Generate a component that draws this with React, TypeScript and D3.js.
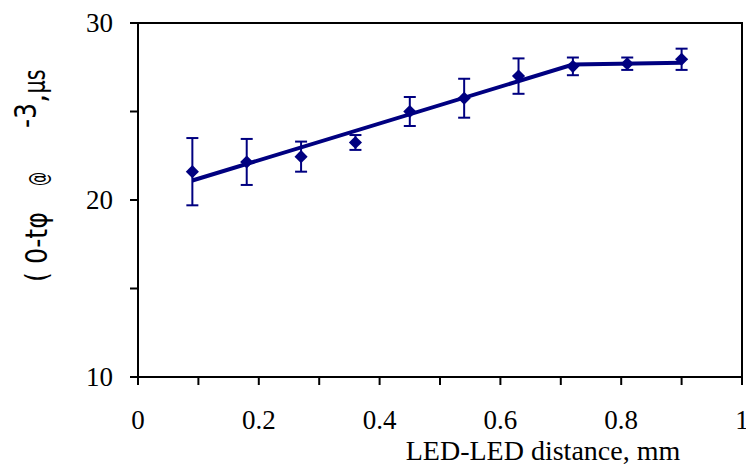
import React from 'react';
import * as d3 from 'd3';

// LED-LED distance (mm) and measured delay values with error bars
const distance = [0.09, 0.18, 0.27, 0.36, 0.45, 0.54, 0.63, 0.72, 0.81, 0.9];
const delay = [21.6, 22.15, 22.45, 23.25, 25.0, 25.75, 27.0, 27.55, 27.7, 27.95];
const delayErr = [1.9, 1.3, 0.85, 0.42, 0.82, 1.1, 1.0, 0.5, 0.35, 0.6];

// fitted trend line
const fitX = [0.09, 0.72, 0.9];
const fitY = [21.1, 27.65, 27.75];

const xTicks = [0, 0.1, 0.2, 0.3, 0.4, 0.5, 0.6, 0.7, 0.8, 0.9, 1];
const xLabels = ['0', '', '0.2', '', '0.4', '', '0.6', '', '0.8', '', '1'];
const yTicks = [10, 15, 20, 25, 30];
const yLabels = ['10', '', '20', '', '30'];

const W = 746;
const H = 466;
const navy = '#000080';
const serif = 'Liberation Serif, DejaVu Serif, serif';
const sans = 'DejaVu Sans, sans-serif';

const left = 138, right = 742, top = 23, bottom = 377;
const x = d3.scaleLinear().domain([0, 1]).range([left, right]);
const y = d3.scaleLinear().domain([10, 30]).range([bottom, top]);

const fitLine = d3.line<number>()
  .x((d) => x(d))
  .y((_, i) => y(fitY[i]));

const diamond = d3.symbol().type(d3.symbolDiamond2).size(110)() as string;

const App = () => (
  <svg width={W} height={H} style={{ position: 'fixed', left: 0, top: 0, background: '#fff' }}>
    {/* frame */}
    <rect x={left} y={top} width={right - left} height={bottom - top} fill="none" stroke="#000" strokeWidth={2} />

    {/* y axis */}
    <g fontFamily={serif} fontSize={27}>
      {yTicks.map((t, i) => (
        <g key={t} transform={`translate(${left},${y(t)})`}>
          <line x1={-8} x2={0} stroke="#000" strokeWidth={2} />
          <text x={-25} dy="0.34em" textAnchor="end">{yLabels[i]}</text>
        </g>
      ))}
    </g>

    {/* x axis */}
    <g fontFamily={serif} fontSize={27}>
      {xTicks.map((t, i) => (
        <g key={t} transform={`translate(${x(t)},${bottom})`}>
          <line y1={0} y2={8} stroke="#000" strokeWidth={2} />
          <text y={52} textAnchor="middle">{xLabels[i]}</text>
        </g>
      ))}
    </g>

    {/* error bars */}
    <g stroke={navy} strokeWidth={2}>
      {distance.map((d, i) => {
        const cx = x(d);
        const y0 = y(delay[i] - delayErr[i]);
        const y1 = y(delay[i] + delayErr[i]);
        return (
          <g key={d}>
            <line x1={cx} x2={cx} y1={y0} y2={y1} />
            <line x1={cx - 6} x2={cx + 6} y1={y0} y2={y0} />
            <line x1={cx - 6} x2={cx + 6} y1={y1} y2={y1} />
          </g>
        );
      })}
    </g>

    {/* trend line */}
    <path d={fitLine(fitX) as string} fill="none" stroke={navy} strokeWidth={4} />

    {/* markers */}
    {distance.map((d, i) => (
      <path key={d} d={diamond} transform={`translate(${x(d)},${y(delay[i])})`} fill={navy} />
    ))}

    {/* x title */}
    <text x={543} y={460} textAnchor="middle" fontFamily={serif} fontSize={28}>
      LED-LED distance, mm
    </text>

    {/* y title (broken symbol-font text as in the source) */}
    <g fontFamily={sans} fontSize={30} fill="#000">
      <text transform="translate(47,282) rotate(-90)" textLength={70} lengthAdjust="spacingAndGlyphs">
        ( 0-tφ
      </text>
      <text transform="translate(47,186) rotate(-90)" textLength={14} lengthAdjust="spacingAndGlyphs" fontSize={24}>
        @
      </text>
      <text transform="translate(45,128) rotate(-90)">
        <tspan dy={-9} textLength={25} lengthAdjust="spacingAndGlyphs">-3</tspan>
        <tspan dy={9}>,</tspan>
        <tspan textLength={24} lengthAdjust="spacingAndGlyphs">μs</tspan>
      </text>
    </g>
  </svg>
);

export default App;
